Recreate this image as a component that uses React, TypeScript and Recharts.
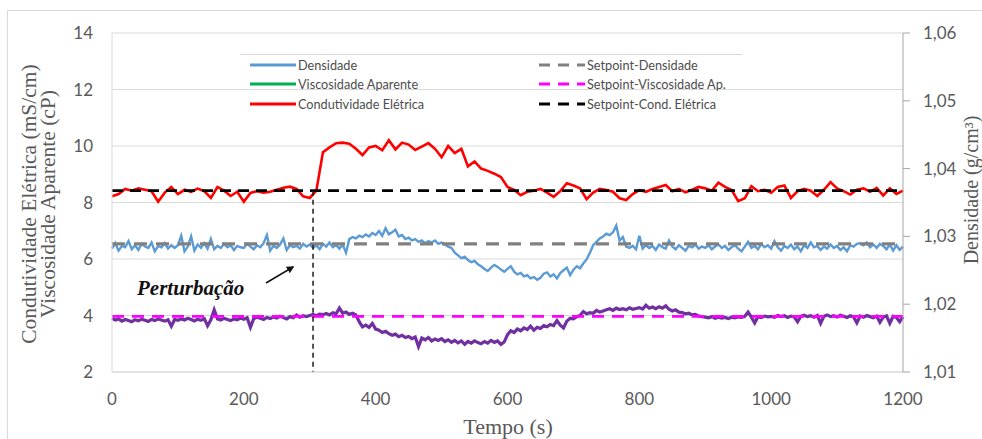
import { LineChart, Line, XAxis, YAxis, CartesianGrid } from "recharts";

// Condutividade elétrica (mS/cm), amostrada a cada 10 s
const condutividade = [
  8.22, 8.30, 8.48, 8.42, 8.50, 8.45, 8.40, 8.03, 8.35, 8.55,
  8.30, 8.45, 8.38, 8.49, 8.40, 8.16, 8.55, 8.42, 8.23, 8.38,
  8.03, 8.34, 8.40, 8.35, 8.38, 8.45, 8.52, 8.56, 8.48, 8.22,
  8.16, 8.42, 9.78, 9.95, 10.10, 10.12, 10.08, 9.90, 9.68, 9.95,
  10.00, 9.85, 10.20, 9.88, 10.12, 10.05, 9.86, 9.98, 10.10, 9.90,
  9.60, 10.00, 9.75, 9.90, 9.28, 9.45, 9.20, 9.12, 9.02, 8.90,
  8.55, 8.45, 8.26, 8.38, 8.42, 8.48, 8.35, 8.20, 8.40, 8.68,
  8.60, 8.50, 8.12, 8.35, 8.48, 8.44, 8.38, 8.15, 8.09, 8.30,
  8.44, 8.38, 8.48, 8.55, 8.62, 8.40, 8.48, 8.36, 8.45, 8.55,
  8.50, 8.42, 8.70, 8.55, 8.44, 8.05, 8.15, 8.58, 8.40, 8.45,
  8.35, 8.55, 8.60, 8.16, 8.40, 8.48, 8.42, 8.23, 8.45, 8.72,
  8.50, 8.40, 8.28, 8.45, 8.50, 8.38, 8.52, 8.25, 8.50, 8.30,
  8.42,
];

// Densidade (g/cm³), amostrada a cada 5 s
const densidade = [
  1.0282, 1.0290, 1.0279, 1.0286, 1.0284, 1.0293, 1.0281, 1.0287, 1.0280, 1.0289, 1.0285, 1.0283, 1.0291, 1.0278, 1.0286, 1.0284, 1.0290, 1.0282, 1.0287, 1.0283,
  1.0287, 1.0301, 1.0278, 1.0285, 1.0300, 1.0279, 1.0288, 1.0283, 1.0290, 1.0282, 1.0296, 1.0281, 1.0286, 1.0283, 1.0289, 1.0284, 1.0287, 1.0280, 1.0286, 1.0284,
  1.0283, 1.0289, 1.0285, 1.0281, 1.0287, 1.0284, 1.0290, 1.0302, 1.0279, 1.0286, 1.0283, 1.0288, 1.0297, 1.0280, 1.0287, 1.0284, 1.0286, 1.0282, 1.0289, 1.0285,
  1.0288, 1.0283, 1.0287, 1.0281, 1.0289, 1.0285, 1.0291, 1.0284, 1.0287, 1.0282, 1.0288, 1.0276, 1.0296, 1.0299, 1.0297, 1.0301, 1.0299, 1.0303, 1.0300, 1.0305,
  1.0302, 1.0308, 1.0301, 1.0312, 1.0303, 1.0306, 1.0310, 1.0300, 1.0302, 1.0296, 1.0298, 1.0294, 1.0296, 1.0292, 1.0294, 1.0290, 1.0293, 1.0291, 1.0294, 1.0289,
  1.0291, 1.0288, 1.0285, 1.0283, 1.0276, 1.0272, 1.0268, 1.0270, 1.0265, 1.0262, 1.0264, 1.0259, 1.0256, 1.0252, 1.0249, 1.0254, 1.0258, 1.0255, 1.0251, 1.0248,
  1.0252, 1.0256, 1.0248, 1.0244, 1.0246, 1.0241, 1.0243, 1.0238, 1.0240, 1.0236, 1.0239, 1.0245, 1.0247, 1.0241, 1.0244, 1.0238, 1.0246, 1.0250, 1.0254, 1.0243,
  1.0251, 1.0256, 1.0253, 1.0260, 1.0266, 1.0276, 1.0287, 1.0292, 1.0297, 1.0300, 1.0304, 1.0302, 1.0306, 1.0316, 1.0294, 1.0299, 1.0285, 1.0283, 1.0286, 1.0281,
  1.0301, 1.0282, 1.0287, 1.0283, 1.0286, 1.0280, 1.0288, 1.0284, 1.0282, 1.0294, 1.0285, 1.0281, 1.0287, 1.0283, 1.0279, 1.0286, 1.0284, 1.0288, 1.0282, 1.0285,
  1.0283, 1.0287, 1.0281, 1.0285, 1.0288, 1.0283, 1.0286, 1.0280, 1.0284, 1.0287, 1.0282, 1.0278, 1.0285, 1.0292, 1.0283, 1.0286, 1.0281, 1.0289, 1.0284, 1.0287,
  1.0282, 1.0293, 1.0284, 1.0279, 1.0286, 1.0283, 1.0288, 1.0281, 1.0285, 1.0278, 1.0287, 1.0283, 1.0291, 1.0284, 1.0286, 1.0280, 1.0285, 1.0282, 1.0288, 1.0283,
  1.0286, 1.0280, 1.0284, 1.0278, 1.0287, 1.0285, 1.0289, 1.0290, 1.0287, 1.0291, 1.0284, 1.0288, 1.0283, 1.0289, 1.0286, 1.0281, 1.0288, 1.0279, 1.0287, 1.0280,
  1.0285,
];

// Viscosidade aparente (cP), amostrada a cada 5 s
const viscosidade = [
  3.90, 3.84, 3.88, 3.80, 3.86, 3.82, 3.78, 3.85, 3.81, 3.87, 3.83, 3.79, 3.86, 3.82, 3.88, 3.84, 3.80, 3.85, 3.62, 3.86,
  3.83, 3.88, 3.84, 3.90, 3.86, 3.81, 3.87, 3.83, 3.89, 3.64, 3.85, 4.20, 3.88, 3.84, 3.90, 3.86, 3.82, 3.88, 3.85, 3.91,
  3.87, 3.92, 3.58, 3.89, 3.94, 3.90, 3.86, 3.93, 3.89, 3.95, 3.91, 3.97, 3.93, 3.88, 3.96, 3.92, 4.02, 3.94, 3.99, 3.96,
  4.00, 4.04, 3.99, 4.05, 4.03, 4.07, 4.02, 4.10, 4.06, 4.26, 4.08, 4.12, 4.04, 4.08, 4.02, 3.78, 3.60, 3.66, 3.58, 3.72,
  3.52, 3.48, 3.40, 3.44, 3.36, 3.30, 3.34, 3.25, 3.30, 3.22, 3.26, 3.18, 3.24, 2.90, 3.20, 3.14, 3.22, 3.10, 3.17, 3.12,
  3.18, 3.08, 3.14, 3.05, 3.12, 3.03, 3.10, 2.98, 3.08, 3.02, 3.10, 3.04, 3.00, 3.08, 3.02, 3.12, 3.05, 3.10, 2.98, 3.06,
  3.32, 3.46, 3.40, 3.52, 3.46, 3.56, 3.50, 3.62, 3.48, 3.58, 3.54, 3.64, 3.60, 3.68, 3.64, 3.82, 3.66, 3.56, 3.80, 3.90,
  3.88, 3.96, 4.00, 4.14, 4.06, 4.10, 4.08, 4.18, 4.12, 4.16, 4.20, 4.24, 4.18, 4.26, 4.21, 4.24, 4.20, 4.27, 4.22, 4.25,
  4.28, 4.23, 4.36, 4.26, 4.30, 4.24, 4.31, 4.26, 4.34, 4.22, 4.16, 4.20, 4.12, 4.10, 4.06, 4.08, 4.02, 4.04, 3.98, 3.96,
  3.94, 3.92, 3.96, 3.90, 3.94, 3.91, 3.93, 3.89, 3.94, 3.92, 3.95, 3.93, 3.97, 4.12, 3.94, 3.74, 3.96, 3.93, 3.98, 3.95,
  3.97, 3.94, 4.00, 3.96, 3.99, 3.93, 3.98, 3.95, 3.78, 3.97, 4.01, 3.96, 3.99, 3.94, 4.00, 3.72, 3.97, 4.02, 3.96, 3.99,
  3.95, 4.01, 3.97, 3.93, 3.99, 3.95, 3.74, 3.98, 3.94, 4.00, 3.96, 3.92, 3.98, 3.76, 3.94, 3.99, 3.72, 3.97, 3.93, 3.78,
  3.96,
];

const setpointCondutividade = 8.42;
const setpointDensidade = 1.0289;
const setpointViscosidade = 3.97;
const tempoPerturbacao = 305;

const xTicks = [0, 200, 400, 600, 800, 1000, 1200];
const leftTicks = [2, 4, 6, 8, 10, 12, 14];
const rightTicks = [1.01, 1.02, 1.03, 1.04, 1.05, 1.06];

const legendLeft = [
  { name: "Densidade", color: "#5B9BD5" },
  { name: "Viscosidade Aparente", color: "#00B050" },
  { name: "Condutividade Elétrica", color: "#FF0000" },
];
const legendRight = [
  { name: "Setpoint-Densidade", color: "#808080" },
  { name: "Setpoint-Viscosidade Ap.", color: "#FF00FF" },
  { name: "Setpoint-Cond. Elétrica", color: "#000000" },
];

// tempos de amostragem
const tempo10 = condutividade.map((_, i) => i * 10);
const tempo5 = densidade.map((_, i) => i * 5);

const condData = condutividade.map((v, i) => ({ t: tempo10[i], v }));
const densData = densidade.map((v, i) => ({ t: tempo5[i], v }));
const viscData = viscosidade.map((v, i) => ({ t: tempo5[i], v }));

const flat = (v: number) => [
  { t: 0, v },
  { t: 1200, v },
];
const perturbData = [
  { t: tempoPerturbacao, v: setpointCondutividade },
  { t: tempoPerturbacao, v: 2 },
];

const tickFont = { fontFamily: "Lato", fontSize: 17, fill: "#595959" };
const serif = "'Liberation Serif', 'DejaVu Serif', serif";

function LegendRow({ name, color, dashed }: { name: string; color: string; dashed?: boolean }) {
  return (
    <div style={{ height: 19.5, display: "flex", alignItems: "center" }}>
      <svg width={46} height={6} style={{ marginRight: 2 }}>
        <line
          x1={0}
          y1={3}
          x2={46}
          y2={3}
          stroke={color}
          strokeWidth={3}
          strokeDasharray={dashed ? "11 8" : undefined}
        />
      </svg>
      <span>{name}</span>
    </div>
  );
}

export default function App() {
  return (
    <div
      style={{
        position: "absolute",
        left: 0,
        top: 0,
        width: 982,
        height: 439,
        overflow: "hidden",
        background: "#fff",
      }}
    >
      {/* moldura do gráfico */}
      <div
        style={{
          position: "absolute",
          left: 7,
          top: 10,
          width: 1000,
          height: 500,
          border: "1px solid #d9d9d9",
        }}
      />

      <div style={{ position: "absolute", left: 0, top: 0 }}>
        <LineChart width={982} height={439} margin={{ top: 33, right: 0, bottom: 0, left: 0 }}>
          <CartesianGrid yAxisId="left" vertical={false} stroke="#d9d9d9" strokeWidth={1} />
          <XAxis
            dataKey="t"
            type="number"
            domain={[0, 1200]}
            ticks={xTicks}
            height={67}
            tick={tickFont}
            tickLine={false}
            tickSize={6}
            tickMargin={15}
            axisLine={{ stroke: "#d9d9d9" }}
          />
          <YAxis
            yAxisId="left"
            type="number"
            domain={[2, 14]}
            ticks={leftTicks}
            width={112}
            tick={tickFont}
            tickLine={false}
            tickSize={6}
            tickMargin={13}
            axisLine={{ stroke: "#d9d9d9" }}
          />
          <YAxis
            yAxisId="right"
            orientation="right"
            type="number"
            domain={[1.01, 1.06]}
            ticks={rightTicks}
            width={79}
            tick={tickFont}
            tickFormatter={(v: number) => v.toFixed(2).replace(".", ",")}
            tickLine={{ stroke: "#a6a6a6" }}
            tickSize={7}
            tickMargin={13}
            axisLine={{ stroke: "#a6a6a6" }}
          />

          <Line yAxisId="left" data={condData} dataKey="v" type="linear" stroke="#FF0000" strokeWidth={2.6} dot={false} isAnimationActive={false} />
          <Line yAxisId="right" data={densData} dataKey="v" type="linear" stroke="#5B9BD5" strokeWidth={2.4} dot={false} isAnimationActive={false} />
          <Line yAxisId="left" data={viscData} dataKey="v" type="linear" stroke="#7030A0" strokeWidth={3.2} dot={false} isAnimationActive={false} />

          <Line yAxisId="right" data={flat(setpointDensidade)} dataKey="v" stroke="#808080" strokeWidth={3.4} strokeDasharray="13 9" dot={false} isAnimationActive={false} />
          <Line yAxisId="left" data={flat(setpointViscosidade)} dataKey="v" stroke="#FF00FF" strokeWidth={2.6} strokeDasharray="12 8" dot={false} isAnimationActive={false} />
          <Line yAxisId="left" data={flat(setpointCondutividade)} dataKey="v" stroke="#000000" strokeWidth={2.6} strokeDasharray="11 7" dot={false} isAnimationActive={false} />
          <Line yAxisId="left" data={perturbData} dataKey="v" stroke="#1a1a1a" strokeWidth={1.5} strokeDasharray="5 4" dot={false} isAnimationActive={false} />
        </LineChart>
      </div>

      {/* legenda */}
      <div
        style={{
          position: "absolute",
          left: 240,
          top: 54,
          width: 502,
          borderTop: "1px solid #d9d9d9",
          fontFamily: "Lato",
          fontSize: 12.7,
          color: "#4d4d4d",
        }}
      >
        <div style={{ position: "absolute", left: 10, top: 0 }}>
          {legendLeft.map((d) => (
            <LegendRow key={d.name} name={d.name} color={d.color} />
          ))}
        </div>
        <div style={{ position: "absolute", left: 299, top: 0 }}>
          {legendRight.map((d) => (
            <LegendRow key={d.name} name={d.name} color={d.color} dashed />
          ))}
        </div>
      </div>

      {/* títulos dos eixos e anotação */}
      <svg width={982} height={439} style={{ position: "absolute", left: 0, top: 0, pointerEvents: "none" }}>
        <defs>
          <marker id="seta" viewBox="0 0 10 10" refX="8" refY="5" markerWidth="5" markerHeight="5" orient="auto">
            <path d="M0,0 L10,5 L0,10 z" fill="#111" />
          </marker>
        </defs>
        <text transform="translate(36,204) rotate(-90)" textAnchor="middle" fontFamily={serif} fontSize={21.5} fill="#595959">
          Condutividade Elétrica (mS/cm)
        </text>
        <text transform="translate(55,204) rotate(-90)" textAnchor="middle" fontFamily={serif} fontSize={21.5} fill="#595959">
          Viscosidade Aparente (cP)
        </text>
        <text transform="translate(978,190) rotate(-90)" textAnchor="middle" fontFamily={serif} fontSize={20} fill="#595959">
          Densidade (g/cm³)
        </text>
        <text x={508} y={434} textAnchor="middle" fontFamily={serif} fontSize={22} fill="#595959">
          Tempo (s)
        </text>
        <text x={137} y={295} fontFamily={serif} fontSize={21} fontWeight="bold" fontStyle="italic" fill="#111">
          Perturbação
        </text>
        <line x1={266} y1={283} x2={293} y2={267} stroke="#111" strokeWidth={1.5} markerEnd="url(#seta)" />
      </svg>
    </div>
  );
}
